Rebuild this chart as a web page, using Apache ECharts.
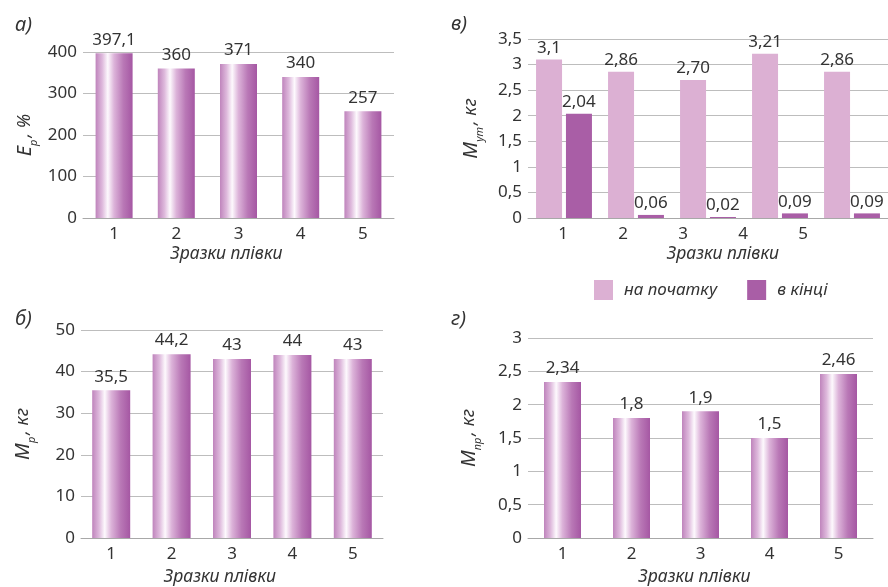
<!DOCTYPE html>
<html><head><meta charset="utf-8">
<script src="https://cdn.jsdelivr.net/npm/echarts@6/dist/echarts.min.js"></script>
<style>html,body{margin:0;padding:0;background:#fff}#c{width:888px;height:587px}</style>
</head><body><div id="c"></div>
<script>
var samples = ['1','2','3','4','5'];
var samplesV = ['1','2','3','4','5',''];
var elongation = [397.1, 360, 371, 340, 257];
var breakLoad = [35.5, 44.2, 43, 44, 43];
var startLoad = [3.1, 2.86, 2.70, 3.21, 2.86];
var endLoad = [2.04, 0.06, 0.02, 0.09, 0.09];
var startLabels = ['3,1','2,86','2,70','3,21','2,86'];
var endLabels = ['2,04','0,06','0,02','0,09','0,09'];
var tearLoad = [2.34, 1.8, 1.9, 1.5, 2.46];
var xName = 'Зразки плівки';
var legendNames = ['на початку', 'в кінці'];

var FONT = 'Noto Sans';
var TXT = '#333';
var GRID = '#bdbdbd';
var FS = 17;
var grad = {type:'linear', x:0, y:0, x2:1, y2:0, colorStops:[
  {offset:0, color:'#bf84bc'},
  {offset:0.18, color:'#deb9dc'},
  {offset:0.33, color:'#fdf9fd'},
  {offset:0.5, color:'#dcb3d9'},
  {offset:0.75, color:'#b978b6'},
  {offset:1, color:'#a557a3'}]};
function comma(v){ return String(v).replace('.', ','); }

function yAxis(idx, max, interval, nameRich, gap){
  return {type:'value', gridIndex:idx, min:0, max:max, interval:interval,
    name:nameRich, nameLocation:'middle', nameRotate:90, nameGap:gap,
    nameTextStyle:{fontFamily:FONT, color:TXT, rich:{
      m:{fontSize:20, fontStyle:'italic', fontFamily:FONT, color:TXT, lineHeight:24, verticalAlign:'middle'},
      s:{fontSize:11, fontStyle:'italic', fontFamily:FONT, color:TXT, lineHeight:24, verticalAlign:'bottom', padding:[0,0,-2,0]},
      n:{fontSize:18, fontStyle:'italic', fontFamily:FONT, color:TXT, lineHeight:24, verticalAlign:'middle', padding:[0,0,0,2]}}},
    axisLine:{show:false}, axisTick:{show:false},
    axisLabel:{fontFamily:FONT, fontSize:FS, color:TXT, margin:6, formatter:comma},
    splitLine:{lineStyle:{color:GRID, width:1}}};
}
function nameStyle(pad){
  return {fontFamily:FONT, fontSize:17.5, fontStyle:'italic', color:TXT, verticalAlign:'top', padding:pad};
}
function xAxis(idx, data, gap, extra){
  var a = {type:'category', gridIndex:idx, data:data, position:'bottom',
    name:xName, nameLocation:'middle', nameGap:gap,
    nameTextStyle:nameStyle([0,0,0,0]),
    axisLine:{lineStyle:{color:'#a8a8a8', width:1}}, axisTick:{show:false},
    axisLabel:{fontFamily:FONT, fontSize:FS, color:TXT, margin:8}};
  if (extra) for (var k in extra) a[k] = extra[k];
  return a;
}
function barLabel(dist, fmt){
  return {show:true, position:'top', distance:dist, fontFamily:FONT, fontSize:FS, color:TXT, formatter:fmt};
}
var titleStyle = {fontFamily:FONT, fontSize:20, fontStyle:'italic', fontWeight:'normal', color:TXT};

var option = {
  animation:false,
  title:[
    {text:'а)', left:10, top:10, textStyle:titleStyle},
    {text:'в)', left:446, top:9, textStyle:titleStyle},
    {text:'б)', left:10, top:304, textStyle:titleStyle},
    {text:'г)', left:446, top:304, textStyle:titleStyle}
  ],
  grid:[
    {left:83, top:52, width:311, height:166},
    {left:528, top:39, width:363, height:179},
    {left:81, top:330, width:302, height:210},
    {left:528, top:338, width:345, height:202}
  ],
  legend:{left:589, top:275, itemWidth:19, itemHeight:20, itemGap:30, icon:'rect',
    data:legendNames,
    textStyle:{fontFamily:FONT, fontSize:17, fontStyle:'italic', color:TXT, padding:[0,0,0,6]}},
  xAxis:[
    xAxis(0, samples, 27, {nameTextStyle:nameStyle([0,24,0,0])}),
    xAxis(1, samples, 27, {axisLabel:{show:false}, name:''}),
    xAxis(2, samples, 30, {nameTextStyle:nameStyle([0,24,0,0])}),
    xAxis(3, samples, 30, {nameTextStyle:nameStyle([0,12,0,0])}),
    xAxis(1, samplesV, 27, {axisLine:{show:false}, axisLabel:{fontFamily:FONT, fontSize:FS, color:TXT, margin:8, padding:[0,0,0,10]},
      nameTextStyle:nameStyle([0,0,0,30])})
  ],
  yAxis:[
    yAxis(0, 400, 100, '{m|E}{s|p}{n|, %}', 46),
    yAxis(1, 3.5, 0.5, '{m|M}{s|ут}{n|, кг}', 45),
    yAxis(2, 50, 10, '{m|M}{s|p}{n|, кг}', 46),
    yAxis(3, 3, 0.5, '{m|M}{s|пр}{n|, кг}', 47)
  ],
  series:[
    {type:'bar', xAxisIndex:0, yAxisIndex:0, data:elongation, barWidth:37,
      itemStyle:{color:grad}, label:barLabel(5, function(p){return comma(p.value);})},
    {type:'bar', name:legendNames[0], xAxisIndex:1, yAxisIndex:1, data:startLoad, barWidth:26, barGap:'15%',
      itemStyle:{color:'#dcb0d3'}, label:barLabel(3, function(p){return startLabels[p.dataIndex];})},
    {type:'bar', name:legendNames[1], xAxisIndex:1, yAxisIndex:1, data:endLoad, barWidth:26, barGap:'15%',
      itemStyle:{color:'#a95ea6'}, label:barLabel(3, function(p){return endLabels[p.dataIndex];})},
    {type:'bar', xAxisIndex:2, yAxisIndex:2, data:breakLoad, barWidth:38,
      itemStyle:{color:grad}, label:barLabel(5, function(p){return comma(p.value);})},
    {type:'bar', xAxisIndex:3, yAxisIndex:3, data:tearLoad, barWidth:37,
      itemStyle:{color:grad}, label:barLabel(5, function(p){return comma(p.value);})}
  ]
};
var chart = echarts.init(document.getElementById('c'), null, {renderer:'canvas'});
chart.setOption(option);
</script></body></html>
